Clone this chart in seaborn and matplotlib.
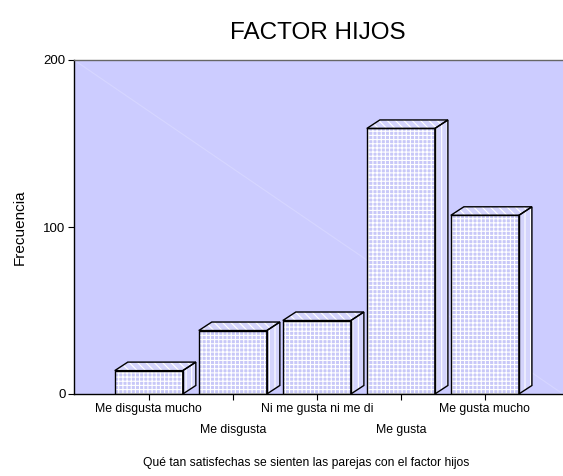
import matplotlib
matplotlib.use("Agg")
import matplotlib.pyplot as plt
from matplotlib.patches import Polygon
import seaborn as sns

categories = ["Me disgusta mucho", "Me disgusta", "Ni me gusta ni me di", "Me gusta", "Me gusta mucho"]
frecuencias = [14, 38, 44, 159, 107]
yticks = [0, 100, 200]

bg = "#ccccff"
face = "#c8c8f8"

sns.set_theme(style="ticks")
plt.rcParams["font.family"] = ["Liberation Sans", "DejaVu Sans"]
plt.rcParams["text.color"] = "black"
plt.rcParams["axes.labelcolor"] = "black"
plt.rcParams["hatch.linewidth"] = 0.8

fig = plt.figure(figsize=(5.63, 4.76), dpi=100)
W, H = 563, 476
ax = fig.add_axes([74 / W, (H - 394) / H, (W - 74) / W, (394 - 60) / H])
ax.set_facecolor(bg)

# faint diagonal in the back wall
ax.plot([0, 1], [1, 0], transform=ax.transAxes, color="#d6d6ff", lw=0.8, zorder=0.5)

# front faces: white grid, then black outlines
sns.barplot(x=categories, y=frecuencias, color=face, width=0.81, saturation=1,
            edgecolor="white", linewidth=0, hatch="++++", ax=ax, zorder=2)
fronts = list(ax.patches)
sns.barplot(x=categories, y=frecuencias, fill=False, width=0.81,
            edgecolor="black", linewidth=1.0, ax=ax, zorder=3)

# 3D depth
dx, dy = 0.155, 5.1
for p in fronts:
    x0, w, h = p.get_x(), p.get_width(), p.get_height()
    top = [(x0, h), (x0 + dx, h + dy), (x0 + w + dx, h + dy), (x0 + w, h)]
    side = [(x0 + w, 0), (x0 + w, h), (x0 + w + dx, h + dy), (x0 + w + dx, dy)]
    for pts, hatch in ((top, "\\\\\\\\"), (side, "|||")):
        ax.add_patch(Polygon(pts, closed=True, facecolor="#d4d4fc", edgecolor="white",
                             linewidth=0, hatch=hatch, zorder=2))
        ax.add_patch(Polygon(pts, closed=True, fill=False, edgecolor="black",
                             linewidth=1.0, zorder=3))

ax.set_xlim(-0.89, 4.93)
ax.set_ylim(0, 200)
ax.set_yticks(yticks)
ax.set_yticklabels([str(v) for v in yticks], fontsize=9.5)
ax.tick_params(axis="y", length=4, width=0.8, pad=2, colors="black")
ax.tick_params(axis="x", length=4, width=0.8, labelsize=8.8, colors="black")
for i, t in enumerate(ax.xaxis.get_major_ticks()):
    t.set_pad(2.5 if i % 2 == 0 else 17.5)

for s in ("left", "bottom"):
    ax.spines[s].set_color("black")
    ax.spines[s].set_linewidth(1.0)
ax.spines["top"].set_color("#666666")
ax.spines["top"].set_linewidth(1.0)
ax.spines["right"].set_visible(False)

ax.set_xlabel("")
ax.set_ylabel("Frecuencia", fontsize=11, labelpad=12)

fig.text(318 / W, 1 - 33 / H, "FACTOR HIJOS", ha="center", va="center", fontsize=17.5)
fig.text(306 / W, 1 - 463 / H, "Qué tan satisfechas se sienten las parejas con el factor hijos",
         ha="center", va="center", fontsize=8.7)

fig.savefig("out.png", dpi=100)
